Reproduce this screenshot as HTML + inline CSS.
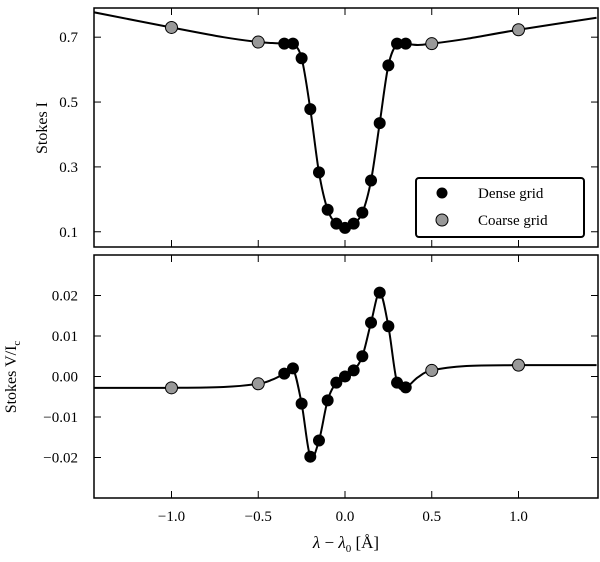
<!DOCTYPE html>
<html><head><meta charset="utf-8"><style>
body{margin:0;background:#fff;}
svg text{font-family:"Liberation Serif",serif;fill:#000;}
</style></head><body>
<svg id="c" width="600" height="557" viewBox="0 0 600 557" xmlns="http://www.w3.org/2000/svg"></svg>
<script>
const denseX=[-0.35,-0.3,-0.25,-0.2,-0.15,-0.1,-0.05,0,0.05,0.1,0.15,0.2,0.25,0.3,0.35];
const denseI=[0.68,0.68,0.635,0.478,0.283,0.168,0.125,0.112,0.125,0.159,0.258,0.435,0.613,0.68,0.68];
const denseV=[0.0007,0.002,-0.0067,-0.0198,-0.0158,-0.0059,-0.0015,0,0.0015,0.005,0.0133,0.0207,0.0124,-0.0015,-0.0027];
const coarseX=[-1,-0.5,0.5,1];
const coarseI=[0.73,0.685,0.68,0.723];
const coarseV=[-0.0028,-0.0018,0.0015,0.0028];
const curveX=[-1.45,-1,-0.7,-0.5,-0.42,-0.35,-0.3,-0.25,-0.2,-0.15,-0.1,-0.05,0,0.05,0.1,0.15,0.2,0.25,0.3,0.35,0.42,0.5,0.7,1,1.45];
const curveI=[0.777,0.73,0.70,0.685,0.682,0.68,0.68,0.635,0.478,0.283,0.168,0.125,0.112,0.125,0.159,0.258,0.435,0.613,0.68,0.68,0.676,0.68,0.695,0.723,0.76];
const curveV=[-0.0028,-0.0028,-0.0026,-0.0018,-0.0008,0.0007,0.002,-0.0067,-0.0198,-0.0158,-0.0059,-0.0015,0,0.0015,0.005,0.0133,0.0207,0.0124,-0.0015,-0.0027,-0.0002,0.0015,0.0026,0.0028,0.0028];
const xTicks=[-1,-0.5,0,0.5,1];
const xTickLabels=["\u22121.0","\u22120.5","0.0","0.5","1.0"];
const iTicks=[0.1,0.3,0.5,0.7];
const iTickLabels=["0.1","0.3","0.5","0.7"];
const vTicks=[-0.02,-0.01,0,0.01,0.02];
const vTickLabels=["\u22120.02","\u22120.01","0.00","0.01","0.02"];

const NS="http://www.w3.org/2000/svg";
const svg=document.getElementById('c');
function mk(t,a,p){const e=document.createElementNS(NS,t);for(const k in a)e.setAttribute(k,a[k]);(p||svg).appendChild(e);return e;}
const L=94,R=598;
const sx=v=>345+v*173.5;
function panel(name,top,bot,ymin,ymax,cx,cy,dx,dy,qx,qy,yt,ytl,showX){
  const g=mk('g',{});
  
  
  const sy=v=>bot-(v-ymin)/(ymax-ymin)*(bot-top);
  // curve via catmull-rom
  let d='M'+sx(cx[0])+','+sy(cy[0]);
  for(let i=0;i<cx.length-1;i++){
    const p0=[sx(cx[Math.max(i-1,0)]),sy(cy[Math.max(i-1,0)])],p1=[sx(cx[i]),sy(cy[i])],p2=[sx(cx[i+1]),sy(cy[i+1])],p3=[sx(cx[Math.min(i+2,cx.length-1)]),sy(cy[Math.min(i+2,cx.length-1)])];
    const c1=[p1[0]+(p2[0]-p0[0])/6,p1[1]+(p2[1]-p0[1])/6],c2=[p2[0]-(p3[0]-p1[0])/6,p2[1]-(p3[1]-p1[1])/6];
    d+=`C${c1[0]},${c1[1]} ${c2[0]},${c2[1]} ${p2[0]},${p2[1]}`;
  }
  const cp=mk('clipPath',{id:'clip-'+name},g);mk('rect',{x:L,y:top,width:R-L,height:bot-top},cp);
  const line=mk('path',{d:d,fill:'none',stroke:'#000','stroke-width':2,'clip-path':'url(#clip-'+name+')'},g);
  
  
  dx.forEach((x,i)=>{const c=mk('circle',{cx:sx(x),cy:sy(dy[i]),r:5.5,fill:'#000',stroke:'#000','stroke-width':1},g);
    
    });
  qx.forEach((x,i)=>{const c=mk('circle',{cx:sx(x),cy:sy(qy[i]),r:6,fill:'#999',stroke:'#000','stroke-width':1},g);
    
    });
  mk('rect',{x:L,y:top,width:R-L,height:bot-top,fill:'none',stroke:'#000','stroke-width':1.5},g);
  xTicks.forEach((t,i)=>{const x=sx(t);
    mk('line',{x1:x,x2:x,y1:bot,y2:bot-7,stroke:'#000'},g);
    mk('line',{x1:x,x2:x,y1:top,y2:top+7,stroke:'#000'},g);
    if(showX){const tx=mk('text',{x:x,y:bot+23,'text-anchor':'middle','font-size':15},g);tx.textContent=xTickLabels[i];
      
      }
  });
  yt.forEach((t,i)=>{const y=sy(t);
    mk('line',{x1:L,x2:L+7,y1:y,y2:y,stroke:'#000'},g);
    mk('line',{x1:R,x2:R-7,y1:y,y2:y,stroke:'#000'},g);
    const tx=mk('text',{x:L-16,y:y+5,'text-anchor':'end','font-size':15},g);tx.textContent=ytl[i];
    
    
  });
}
panel('stokes-i',8,247,0.053,0.79,curveX,curveI,denseX,denseI,coarseX,coarseI,iTicks,iTickLabels,false);
panel('stokes-v',255,498,-0.030,0.030,curveX,curveV,denseX,denseV,coarseX,coarseV,vTicks,vTickLabels,true);
</script>
<svg style="position:absolute;left:0;top:0" width="600" height="557" xmlns="http://www.w3.org/2000/svg">
<text x="47" y="128" font-size="16" text-anchor="middle" transform="rotate(-90 47 128)" font-family="Liberation Serif,serif">Stokes I</text>
<text x="16" y="377" font-size="16" text-anchor="middle" transform="rotate(-90 16 377)" font-family="Liberation Serif,serif">Stokes V/I<tspan font-size="11" dy="4">c</tspan></text>
<text x="346" y="548" font-size="17" text-anchor="middle" font-family="Liberation Serif,serif"><tspan font-style="italic">λ</tspan> − <tspan font-style="italic">λ</tspan><tspan font-size="11" dy="4">0</tspan><tspan dy="-4"> [Å]</tspan></text>
<g>
<rect x="416" y="178" width="168" height="59" rx="3" fill="#fff" stroke="#000" stroke-width="2"/>
<circle cx="442" cy="193" r="5.5" fill="#000"/>
<text x="478" y="198" font-size="15" font-family="Liberation Serif,serif">Dense grid</text>
<circle cx="442" cy="220" r="6" fill="#999" stroke="#000"/>
<text x="478" y="225" font-size="15" font-family="Liberation Serif,serif">Coarse grid</text>
</g>
</svg>
</body></html>
